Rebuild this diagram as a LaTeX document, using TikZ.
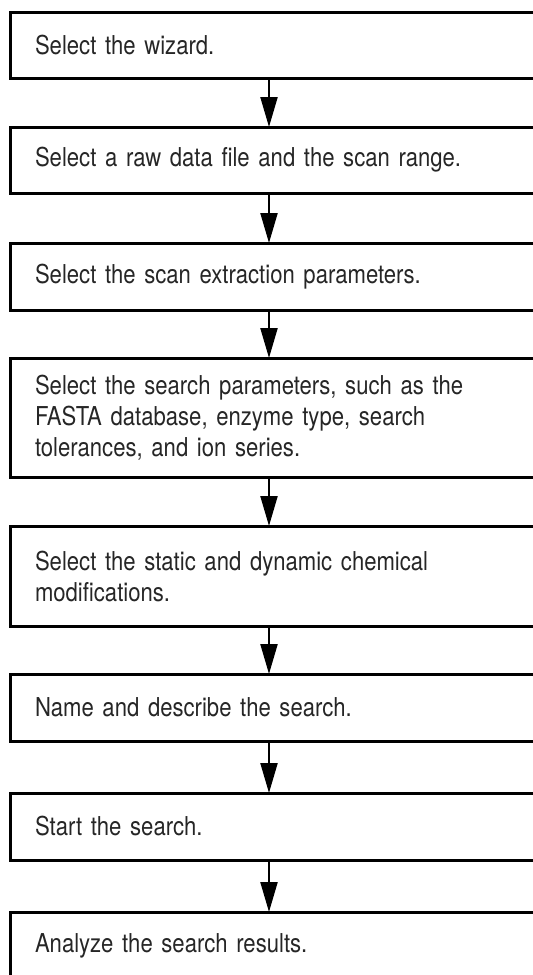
\documentclass[tikz,border=0pt]{standalone}
\usepackage{fontspec}
\setmainfont{TeX Gyre Heros}[FakeStretch=0.85]
\usetikzlibrary{arrows.meta, calc}
\usepackage{xcolor}

\begin{document}
\begin{tikzpicture}[x=1pt, y=-1pt,
  stepbox/.style={draw, line width=3pt, outer sep=0pt, anchor=north west, text width=500pt, inner xsep=24.5pt, align=left, text=black!85, font=\fontsize{26}{31}\selectfont},
  flow/.style={-{Triangle[length=30pt, width=17pt]}, line width=2.2pt}
]
\useasboundingbox (0,0) rectangle (533,975);
\clip (0,0) rectangle (533,975);

% Steps (boxes run past the right edge)
\node[stepbox, minimum height=66pt] (wiz) at (10.5,12) {Select the wizard.};
\node[stepbox, minimum height=66pt] (raw) at (10.5,127) {Select a raw data file and the scan range.};
\node[stepbox, minimum height=67pt] (ext) at (10.5,243) {Select the scan extraction parameters.};
\node[stepbox, minimum height=119pt] (par) at (10.5,358) {Select the search parameters, such as the\\FASTA database, enzyme type, search\\tolerances, and ion series.};
\node[stepbox, minimum height=100pt] (mod) at (10.5,526) {Select the static and dynamic chemical\\modifications.};
\node[stepbox, minimum height=67pt] (nam) at (10.5,674) {Name and describe the search.};
\node[stepbox, minimum height=67pt] (sta) at (10.5,793) {Start the search.};
\node[stepbox, minimum height=67pt] (ana) at (10.5,912) {Analyze the search results.};

% Arrows (all on one vertical line)
\coordinate (ax) at (269,0);
\foreach \a/\b in {wiz/raw, raw/ext, ext/par, par/mod, mod/nam, nam/sta, sta/ana}{\draw[flow] (\a.south -| ax) -- (\b.north -| ax);}
\end{tikzpicture}
\end{document}
